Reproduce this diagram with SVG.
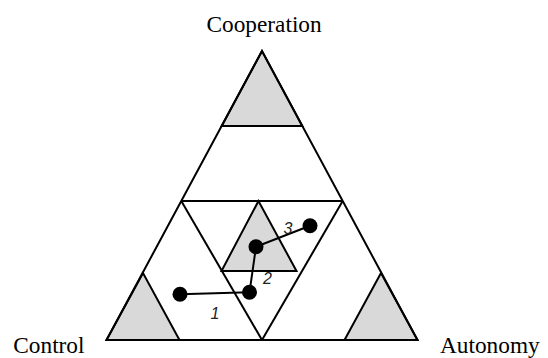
<svg xmlns="http://www.w3.org/2000/svg" width="548" height="358" viewBox="0 0 548 358">
  <style>
    .edge { fill: none; stroke: #000; stroke-width: 2; stroke-linejoin: miter; }
    .shade { fill: #d9d9d9; stroke: #000; stroke-width: 2; }
    .conn { stroke: #000; stroke-width: 2; fill: none; }
    .dot { fill: #000; }
    .corner { font-size: 23.3px; fill: #000; }
    .num { font-style: italic; font-size: 16px; fill: #222; text-anchor: middle; }
  </style>
  <rect width="548" height="358" fill="#fff"/>
  <g id="frame">
    <polygon class="shade" points="262,51 221.7,126 302.3,126"/>
    <polygon class="shade" points="143,273 106.5,340 179.5,340"/>
    <polygon class="shade" points="381,273 344.5,340 417.5,340"/>
    <polygon class="shade" points="258.5,201 221.5,271 296.5,271"/>
    <polygon class="edge" points="262,51 106.5,340 417.5,340"/>
    <line class="edge" x1="221.7" y1="126" x2="302.3" y2="126"/>
    <line class="edge" x1="181.3" y1="201" x2="342.7" y2="201"/>
    <line class="edge" x1="181.3" y1="201" x2="262" y2="340"/>
    <line class="edge" x1="342.7" y1="201" x2="262" y2="340"/>
  </g>
  <g id="labels" font-family="'Liberation Serif', 'Times New Roman', 'DejaVu Serif', serif">
    <text id="label-cooperation" class="corner" x="206.5" y="32">Cooperation</text>
    <text id="label-control" class="corner" x="13.3" y="353">Control</text>
    <text id="label-autonomy" class="corner" x="440" y="353">Autonomy</text>
  </g>
  <g id="connectors" font-family="'Liberation Sans', Arial, sans-serif">
    <line class="conn" x1="180" y1="294.3" x2="249.5" y2="292.3"/>
    <line class="conn" x1="249.5" y1="292.3" x2="256" y2="246.7"/>
    <line class="conn" x1="256" y1="246.7" x2="310" y2="225.7"/>
    <text class="num" x="215" y="319">1</text>
    <text class="num" x="267.5" y="284">2</text>
    <text class="num" x="288" y="234">3</text>
  </g>
  <g id="node-a"><circle class="dot" cx="180" cy="294.3" r="7.5"/></g>
  <g id="node-b"><circle class="dot" cx="249.5" cy="292.3" r="7.5"/></g>
  <g id="node-c"><circle class="dot" cx="256" cy="246.7" r="7.5"/></g>
  <g id="node-d"><circle class="dot" cx="310" cy="225.7" r="7.5"/></g>
</svg>
